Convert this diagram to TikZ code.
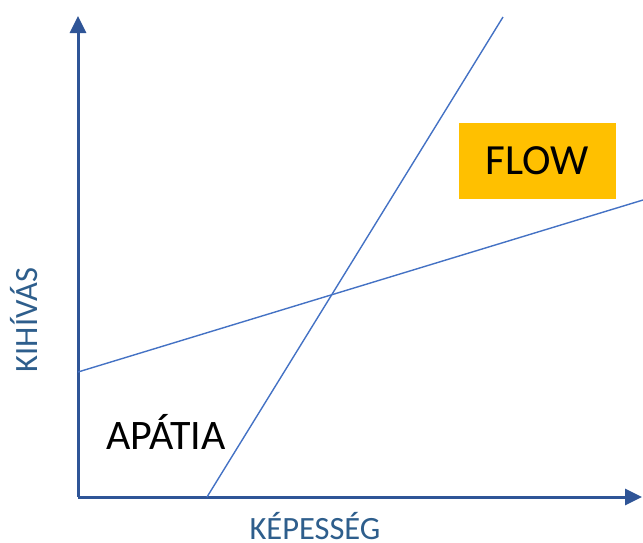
\documentclass[tikz,border=0pt]{standalone}
\usepackage{fontspec}
\setmainfont{Carlito}
\usetikzlibrary{arrows.meta}
\definecolor{tengely}{RGB}{47,85,151}
\definecolor{vonal}{RGB}{68,114,196}
\definecolor{felirat}{RGB}{46,94,140}
\definecolor{narancs}{RGB}{255,192,0}
\begin{document}
\begin{tikzpicture}[x=1pt, y=-1pt, every node/.style={inner sep=0pt}]
    \useasboundingbox (0,0) rectangle (643,542);

    % Tengelyek
    \coordinate (O) at (78,497);
    \coordinate (Y) at (78,16);
    \coordinate (X) at (642,497);
    \draw[tengely, line width=3pt, -{Triangle[length=17pt,width=16pt]}] (O) -- (Y);
    \draw[tengely, line width=3pt, -{Triangle[length=17pt,width=16pt]}] (O) -- (X);

    % Egyenesek
    \coordinate (a1) at (207,497);
    \coordinate (a2) at (503,17);
    \coordinate (b1) at (78,372);
    \coordinate (b2) at (643,200);
    \draw[vonal, line width=1.4pt] (a1) -- (a2);
    \draw[vonal, line width=1.4pt] (b1) -- (b2);

    % Feliratok
    \node[fill=narancs, minimum width=157, minimum height=76,
        font=\fontsize{43}{43}\selectfont] (flow) at (537.5,161) {FLOW};
    \node[anchor=base, font=\fontsize{42}{42}\selectfont] (apatia) at (166,449) {APÁTIA};
    \node[anchor=base, text=felirat, font=\fontsize{32.5}{32}\selectfont]
        (kepesseg) at (315,539) {KÉPESSÉG};
    \node[anchor=base, rotate=90, text=felirat, font=\fontsize{32.5}{32}\selectfont]
        (kihivas) at (37,320) {KIHÍVÁS};
\end{tikzpicture}
\end{document}
